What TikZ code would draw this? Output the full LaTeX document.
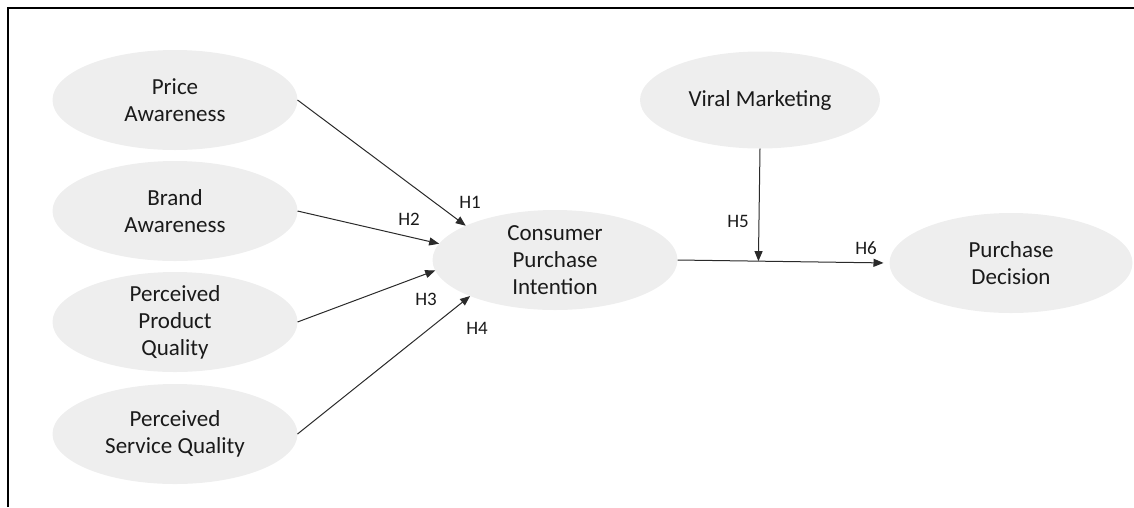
\documentclass[tikz,border=0pt]{standalone}
\usepackage{fontspec}
\setmainfont{Carlito}
\usetikzlibrary{shapes.geometric,arrows.meta,calc}
\begin{document}
\begin{tikzpicture}[x=1pt,y=-1pt,
  ell/.style={ellipse,fill=ellfill,draw=none,minimum width=245pt,minimum height=100pt,inner sep=0pt,outer sep=0pt},
  ltxt/.style={font=\fontsize{23}{27}\selectfont,align=center,text=txtcol,inner sep=0pt},
  hlab/.style={font=\fontsize{19}{22}\selectfont,text=txtcol,inner sep=0pt},
  arr/.style={draw=arrcol,line width=1pt,-{Triangle[length=10pt,width=8pt]}},
  ln/.style={draw=arrcol,line width=1pt}]
\definecolor{ellfill}{HTML}{EEEEEE}
\definecolor{txtcol}{HTML}{1A1A1A}
\definecolor{arrcol}{HTML}{2A2A2A}
\useasboundingbox (0,0) rectangle (1134,507);
\draw[line width=2.4pt,black] (8,507) -- (8,8) -- (1134,8);

\node[ell] (pa) at (175,100) {};
\node[ltxt] (tpa) at (pa) {Price\\Awareness};
\node[ell] (ba) at (175,211) {};
\node[ltxt] (tba) at (ba) {Brand\\Awareness};
\node[ell] (ppq) at (175,322) {};
\node[ltxt] (tppq) at (ppq) {Perceived\\Product\\Quality};
\node[ell] (psq) at (175,434) {};
\node[ltxt] (tpsq) at (psq) {Perceived\\Service Quality};
\node[ell] (cpi) at (555,260) {};
\node[ltxt] (tcpi) at (cpi) {Consumer\\Purchase\\Intention};
\node[ell,minimum width=240pt,minimum height=97pt] (vm) at (760,100) {};
\node[ltxt] (tvm) at (vm) {Viral Marketing};
\node[ell,minimum width=243pt] (pd) at (1011,263) {};
\node[ltxt] (tpd) at (pd) {Purchase\\Decision};

\draw[arr] (pa.east) -- (cpi.159.7);
\draw[arr] (ba.east) -- (cpi.172.5);
\draw[arr] (ppq.east) -- (cpi.185.2);
\draw[arr] (psq.east) -- (cpi.203);
\draw[arr,shorten >=6pt] (cpi.east) -- (pd.west);
\coordinate (m) at ($(cpi.east)!(vm.south)!(pd.west)$);
\draw[arr] (vm.south) -- (m);

\node[hlab] (h1) at (470,202) {H1};
\node[hlab] (h2) at (409,219) {H2};
\node[hlab] (h3) at (426,299) {H3};
\node[hlab] (h4) at (477,328) {H4};
\node[hlab] (h5) at (738,221) {H5};
\node[hlab] (h6) at (866,248) {H6};
\end{tikzpicture}
\end{document}
